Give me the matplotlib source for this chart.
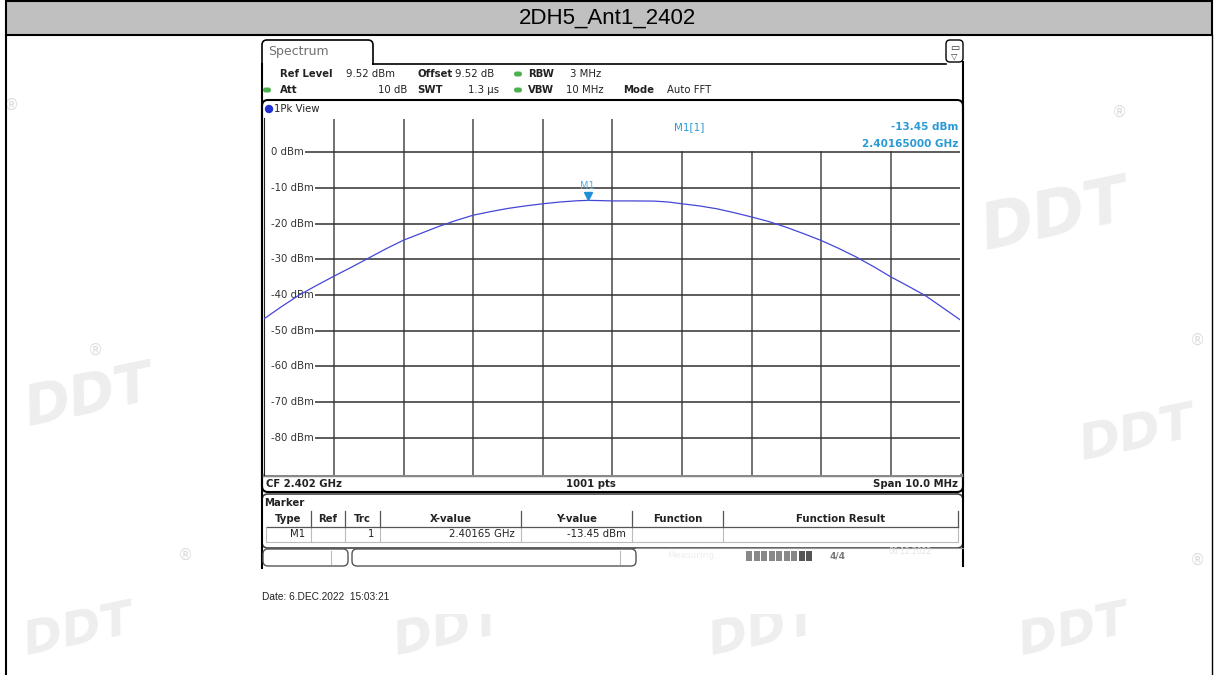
import numpy as np
import matplotlib
matplotlib.use('Agg')
from matplotlib import pyplot as plt
from matplotlib.patches import Rectangle, FancyBboxPatch
import matplotlib.transforms as mtransforms

# trace (GHz, dBm)
freq_ghz = [2.3970, 2.39725, 2.3975, 2.39775, 2.3980, 2.39825, 2.3985, 2.39875,
            2.3990, 2.39925, 2.3995, 2.39975, 2.4000, 2.40025, 2.4005, 2.40075,
            2.4010, 2.40125, 2.4015, 2.40165, 2.4018, 2.4020, 2.4023, 2.4026,
            2.4028, 2.4030, 2.40325, 2.4035, 2.40375, 2.4040, 2.40425, 2.4045,
            2.40475, 2.4050, 2.40525, 2.4055, 2.40575, 2.4060, 2.40625, 2.4065,
            2.40675, 2.4070]
level_dbm = [-46.6, -43.2, -40.0, -37.3, -34.7, -32.2, -29.6, -27.0,
             -24.6, -22.7, -20.8, -19.1, -17.6, -16.6, -15.7, -15.0,
             -14.4, -13.9, -13.55, -13.45, -13.5, -13.6, -13.6, -13.65,
             -13.9, -14.4, -15.0, -15.8, -16.9, -18.1, -19.4, -21.0,
             -22.8, -24.7, -26.9, -29.3, -32.0, -34.9, -37.5, -40.2,
             -43.6, -47.0]

title = '2DH5_Ant1_2402'
ref_level = 9.52
y_ticks = [0, -10, -20, -30, -40, -50, -60, -70, -80]
x_ticks = [2.397 + i * 0.001 for i in range(11)]
marker_x = 2.40165
marker_y = -13.45

table_cols = ['Type', 'Ref', 'Trc', 'X-value', 'Y-value', 'Function', 'Function Result']
table_row = ['M1', '', '1', '2.40165 GHz', '-13.45 dBm', '', '']

W, H = 1215, 675
fig = plt.figure(figsize=(W / 100, H / 100), dpi=100)
fig.patch.set_facecolor('white')

bg = fig.add_axes([0, 0, 1, 1])
bg.set_xlim(0, W)
bg.set_ylim(H, 0)
bg.axis('off')

narrow = ['Liberation Sans Narrow', 'Liberation Sans', 'DejaVu Sans']

# faint watermarks
wm = '#eeeeee'
for (x, y, s) in [(20, 425, 40), (975, 250, 46), (1075, 460, 36), (20, 655, 34),
                  (390, 655, 34), (705, 655, 34), (1015, 655, 34)]:
    bg.text(x, y, 'DDT', fontsize=s, color=wm, fontweight='bold', style='italic',
            rotation=12, ha='left', va='baseline', zorder=0)
for (x, y) in [(12, 105), (95, 350), (185, 555), (1120, 112), (1198, 340), (1198, 560)]:
    bg.text(x, y, '®', fontsize=11, color='#dddddd', ha='center', va='center', zorder=0)

# title bar + page border
bg.add_patch(Rectangle((6, 1), W - 9, 34, facecolor='#c0c0c0', edgecolor='black', lw=1.5, zorder=2))
bg.text(W / 2, 18, title, fontsize=16, family=narrow, ha='center', va='center', zorder=3)
bg.plot([6, 6], [35, H], color='black', lw=1.5, zorder=2)
bg.plot([W - 3, W - 3], [35, H], color='black', lw=1.0, zorder=2)

# screenshot white area
bg.add_patch(Rectangle((255, 36), 710, 578, facecolor='white', edgecolor='none', zorder=1))

# tab + header
bg.add_patch(FancyBboxPatch((262, 40), 111, 30, boxstyle='round,pad=0,rounding_size=5',
                            facecolor='white', edgecolor='black', lw=1.2, zorder=2))
bg.add_patch(Rectangle((263, 65), 700, 8, facecolor='white', edgecolor='none', zorder=2))
bg.text(268, 52, 'Spectrum', fontsize=9, color='#707070', va='center', zorder=3)
bg.plot([373, 946], [64, 64], color='black', lw=1.2, zorder=3)
bg.plot([262, 262], [64, 568], color='black', lw=1.5, zorder=3)
bg.plot([963, 963], [62, 566], color='black', lw=1.5, zorder=3)
bg.add_patch(FancyBboxPatch((946, 40), 17, 22, boxstyle='round,pad=0,rounding_size=4',
                            facecolor='white', edgecolor='black', lw=1.0, zorder=3))
bg.text(954.5, 48, '\u25ad', fontsize=7, color='#333', ha='center', va='center', zorder=4)
bg.text(954.5, 56, '\u25bd', fontsize=6, color='#333', ha='center', va='center', zorder=4)

fs = 7.3
hdr = [
    (280, 74, 'Ref Level', 'bold'), (346, 74, '9.52 dBm', 'normal'),
    (417, 74, 'Offset', 'bold'), (455, 74, '9.52 dB', 'normal'),
    (528, 74, 'RBW', 'bold'), (570, 74, '3 MHz', 'normal'),
    (280, 90, 'Att', 'bold'), (378, 90, '10 dB', 'normal'),
    (417, 90, 'SWT', 'bold'), (468, 90, '1.3 µs', 'normal'),
    (528, 90, 'VBW', 'bold'), (566, 90, '10 MHz', 'normal'),
    (623, 90, 'Mode', 'bold'), (667, 90, 'Auto FFT', 'normal'),
]
for x, y, s, w in hdr:
    bg.text(x, y, s, fontsize=fs, fontweight=w, color='#222', va='center', zorder=4)
for (x, y) in [(518, 74), (267, 90), (518, 90)]:
    bg.add_patch(FancyBboxPatch((x - 4, y - 2.5), 8, 5, boxstyle='round,pad=0,rounding_size=2.5',
                                facecolor='#4caf50', edgecolor='none', zorder=4))

# graph window
bg.add_patch(FancyBboxPatch((262, 100), 701, 392, boxstyle='round,pad=0,rounding_size=6',
                            facecolor='white', edgecolor='black', lw=1.5, zorder=2))
bg.add_patch(plt.Circle((269, 109), 3.5, color='#2030d0', zorder=4))
bg.text(274, 109, '1Pk View', fontsize=fs, color='#222', va='center', zorder=4)
bg.plot([264, 961], [475, 475], color='#888888', lw=2.5, zorder=4)
bg.text(266, 484, 'CF 2.402 GHz', fontsize=fs, fontweight='bold', color='#222', va='center', zorder=4)
bg.text(591, 484, '1001 pts', fontsize=fs, fontweight='bold', color='#222', va='center', ha='center', zorder=4)
bg.text(958, 484, 'Span 10.0 MHz', fontsize=fs, fontweight='bold', color='#222', va='center', ha='right', zorder=4)

# marker panel
bg.add_patch(FancyBboxPatch((262, 494), 701, 54, boxstyle='round,pad=0,rounding_size=6',
                            facecolor='white', edgecolor='#444', lw=1.2, zorder=2))
bg.text(264, 503, 'Marker', fontsize=fs, fontweight='bold', color='#222', va='center', zorder=4)
col_edges = [266, 311, 345, 380, 521, 632, 723, 958]
for i, name in enumerate(table_cols):
    cx = (col_edges[i] + col_edges[i + 1]) / 2
    bg.text(cx, 519, name, fontsize=fs, fontweight='bold', color='#222', ha='center', va='center', zorder=4)
    val = table_row[i]
    if val:
        bg.text(col_edges[i + 1] - 6, 534, val, fontsize=fs, color='#222', ha='right', va='center', zorder=4)
for x in col_edges[1:]:
    bg.plot([x, x], [511, 527], color='#555', lw=0.9, zorder=4)
    bg.plot([x, x], [527, 542], color='#bbb', lw=0.8, zorder=4)
bg.plot([266, 958], [527, 527], color='#555', lw=0.9, zorder=4)
bg.plot([266, 958], [542, 542], color='#bbb', lw=0.8, zorder=4)
bg.plot([266, 266], [527, 542], color='#bbb', lw=0.8, zorder=4)

# status bar
bg.add_patch(FancyBboxPatch((263, 549), 85, 17, boxstyle='round,pad=0,rounding_size=5',
                            facecolor='white', edgecolor='#555', lw=1.0, zorder=3))
bg.plot([331, 331], [551, 564], color='#bbb', lw=0.8, zorder=4)
bg.add_patch(FancyBboxPatch((352, 549), 284, 17, boxstyle='round,pad=0,rounding_size=5',
                            facecolor='white', edgecolor='#555', lw=1.0, zorder=3))
bg.plot([620, 620], [551, 564], color='#bbb', lw=0.8, zorder=4)
bg.plot([636, 963], [548, 548], color='#999', lw=0.8, zorder=3)
bg.text(695, 556, 'Measuring...', fontsize=6.5, color='#eeeeee', ha='center', va='center', zorder=4)
for i in range(9):
    c = '#555555' if i >= 7 else '#888888'
    bg.add_patch(Rectangle((746 + i * 7.5, 551), 6, 10, facecolor=c, edgecolor='none', zorder=4))
bg.text(838, 556, '4/4', fontsize=6.5, color='#777', fontweight='bold', ha='center', va='center', zorder=4)
bg.text(910, 552, '06.12.2022', fontsize=5.5, color='#e4e4e4', ha='center', va='center', zorder=4)

bg.text(262, 597, 'Date: 6.DEC.2022  15:03:21', fontsize=7.3, family=narrow, color='#222', va='center', zorder=4)

# spectrum plot area
x0, x1 = 264.4, 960.4
y0, y1 = 118.5, 475.0
ax = fig.add_axes([x0 / W, 1 - y1 / H, (x1 - x0) / W, (y1 - y0) / H])
ax.set_facecolor('white')
ax.set_xlim(x_ticks[0], x_ticks[-1])
ax.set_ylim(ref_level - 100, ref_level)
for x in x_ticks[1:-1]:
    ax.axvline(x, color='#4a4a4a', lw=1.1, zorder=1)
for yv in y_ticks:
    ax.axhline(yv, color='#303030', lw=1.1, zorder=1.7)
    ax.text(0.009, yv, f'{yv} dBm', transform=ax.get_yaxis_transform(), fontsize=7.3,
            color='#333', va='center', ha='left', zorder=2,
            bbox=dict(facecolor='white', edgecolor='none', pad=0.6,
                      boxstyle='square,pad=0.15'))
# left gap before labels
ax.axvspan(x_ticks[0], x_ticks[0] + 0.00008, ymin=0, ymax=0.999, color='white', zorder=1.8)
# marker info box hides the grid at top right
ax.fill_between([2.40212, x_ticks[-1]], 0.6, ref_level, color='white', zorder=1.6)
ax.plot(freq_ghz, level_dbm, color='#4646d6', lw=0.9, zorder=3)

mk = mtransforms.offset_copy(ax.transData, fig=fig, x=0, y=4, units='dots')
ax.plot([marker_x], [marker_y], marker='v', ms=5.5, color='#1e90d8', transform=mk, zorder=4)
lb = mtransforms.offset_copy(ax.transData, fig=fig, x=-1, y=14, units='dots')
ax.text(marker_x, marker_y, 'M1', transform=lb, fontsize=7, color='#5aaee0', ha='center', va='center', zorder=4)

ax.text(0.61, 0.975, 'M1[1]', transform=ax.transAxes, fontsize=7.5, color='#2a9ad6',
        ha='center', va='center', zorder=5)
ax.text(0.997, 0.975, '-13.45 dBm', transform=ax.transAxes, fontsize=7.5, color='#2a9ad6',
        fontweight='bold', ha='right', va='center', zorder=5)
ax.text(0.997, 0.928, '2.40165000 GHz', transform=ax.transAxes, fontsize=7.5, color='#2a9ad6',
        fontweight='bold', ha='right', va='center', zorder=5)

ax.set_xticks([])
ax.set_yticks([])
for sp in ax.spines.values():
    sp.set_visible(False)
ax.spines['left'].set_visible(True)
ax.spines['left'].set_color('#222')

fig.savefig('out.png', dpi=100)
